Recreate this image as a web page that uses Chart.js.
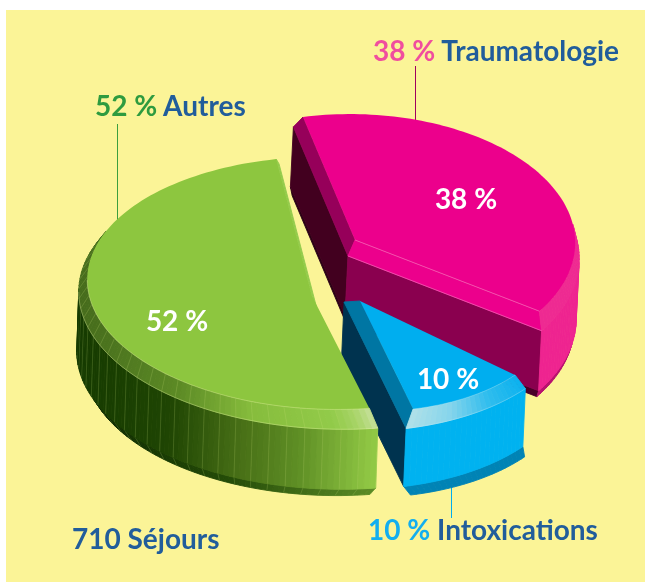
<!DOCTYPE html>
<html>
<head>
<meta charset="utf-8">
<script src="https://cdn.jsdelivr.net/npm/chart.js@4/dist/chart.umd.js"></script>
<style>
    html, body { margin: 0; padding: 0; background: #fff; }
    #page { position: relative; width: 645px; height: 582px; overflow: hidden; }
    #panel { position: absolute; left: 6px; top: 10px; right: 0; bottom: 0; background: #FBF497; }
    canvas { position: absolute; left: 0; top: 0; }
    .label { position: absolute; font: bold 28px Lato, sans-serif; color: #215D9B; white-space: pre; line-height: 30px; }
    .inner { position: absolute; font: bold 28px Lato, sans-serif; color: #fff; white-space: pre; line-height: 30px; transform: translateX(-50%); }
</style>
</head>
<body>
<div id="page">
    <div id="panel"></div>
    <canvas id="chart" width="645" height="582"></canvas>
    <div id="texts"></div>
</div>
<script>
// Chart data
var categories = ['Traumatologie', 'Intoxications', 'Autres'];
var shares = [38, 10, 52];
var totalLabel = '710 Séjours';

// Top face of every slice: apex, rim vectors at 0 and 90 degrees from the slice start, perspective
var sliceViews = [
    { apex: [355, 240], p: [-52, -123], q: [214, -27], k: [0, 0] },
    { apex: [360, 301], p: [155, 74], q: [-123, 82], k: [0, 0] },
    { apex: [312, 296], p: [62, 121.5], q: [-232, 28], k: [0.082, 0.0985] }
];

// Solid layers from top face to underside
var sliceLayers = [
    [{ scale: 1, dx: 0, dy: 0 }, { scale: 1.05, dx: -7, dy: 16 }, { scale: 1.05, dx: -10, dy: 76 }, { scale: 1.035, dx: -9, dy: 83 }],
    [{ scale: 1, dx: 0, dy: 0 }, { scale: 1.17, dx: -16, dy: 1 }, { scale: 1.17, dx: -18.5, dy: 59 }, { scale: 1.12, dx: -9, dy: 73 }],
    [{ scale: 1, dx: 0, dy: 0 }, { scale: 1.06, dx: 5, dy: 13 }, { scale: 1.06, dx: 3, dy: 73 }, { scale: 1.01, dx: 0, dy: 85 }]
];

var topColors = ['#EC008C', '#00AEEF', '#8DC63F'];

// Band colours, rim given as [screen x, colour] stops
var bandStyles = [
    [
        { start: '#96005A', end: '#EC008C', rim: [[0, '#EE2A92']] },
        { start: '#42001F', end: '#8A004F', rim: [[0, '#EE2490']] },
        { start: '#2A0015', end: '#4A0028', rim: [[0, '#B8126E']] }
    ],
    [
        { start: '#0076A3', end: '#0076A3', rim: [[408, '#B5E2E8'], [450, '#86D5EC'], [485, '#30BDEE'], [525, '#00AEEF']] },
        { start: '#00334F', end: '#00334F', rim: [[0, '#00B2F0']] },
        { start: '#00334F', end: '#00334F', rim: [[0, '#0083B5']] }
    ],
    [
        { start: '#8DC63F', end: '#93CB4C', rim: [[85, '#456B1C'], [180, '#5C8A25'], [250, '#86BC3C'], [330, '#92CB4A'], [352, '#A8D468'], [372, '#CBE2A2']] },
        { start: '#153A00', end: '#153A00', rim: [[80, '#153A00'], [170, '#1F4503'], [240, '#476F16'], [300, '#5F8F25'], [372, '#90C844']] },
        { start: '#0D2900', end: '#0D2900', rim: [[90, '#0D2900'], [230, '#254C08'], [370, '#5A8A25']] }
    ]
];

var hairlines = ['rgba(255,190,225,0.55)', 'rgba(200,240,250,0.45)', 'rgba(235,245,170,0.5)'];

// Leaders from the outside labels: colour, x, y from, y to
var leaders = [
    ['#A0005F', 415, 66, 125],
    ['#00AEEF', 451, 480, 518],
    ['#3C9E3E', 117, 124, 222]
];

var DEG = Math.PI / 180;

var rimPoint = function(view, layer, t) {
    var c = Math.cos(t), s = Math.sin(t);
    var w = 1 + view.k[0] * c + view.k[1] * s;
    return [
        view.apex[0] + layer.dx + layer.scale * (view.p[0] * c + view.q[0] * s) / w,
        view.apex[1] + layer.dy + layer.scale * (view.p[1] * c + view.q[1] * s) / w
    ];
};

var apexPoint = function(view, layer) {
    return [view.apex[0] + layer.dx, view.apex[1] + layer.dy];
};

var signedArea = function(pts) {
    var a = 0;
    for (var i = 0; i < pts.length; i++) {
        var n = pts[(i + 1) % pts.length];
        a += pts[i][0] * n[1] - n[0] * pts[i][1];
    }
    return a / 2;
};

var tracePath = function(ctx, pts, close) {
    ctx.beginPath();
    ctx.moveTo(pts[0][0], pts[0][1]);
    for (var i = 1; i < pts.length; i++) ctx.lineTo(pts[i][0], pts[i][1]);
    if (close) ctx.closePath();
};

// Visible sides only, the outward ones wind against the slice
var drawQuad = function(ctx, quad, color) {
    if (signedArea(quad) >= 0) return false;
    tracePath(ctx, quad, true);
    ctx.fillStyle = color;
    ctx.strokeStyle = color;
    ctx.lineWidth = 0.9;
    ctx.fill();
    ctx.stroke();
    return true;
};

var hexToRgb = function(hex) {
    return [parseInt(hex.substr(1, 2), 16), parseInt(hex.substr(3, 2), 16), parseInt(hex.substr(5, 2), 16)];
};

var rimColor = function(stops, x) {
    if (stops.length == 1 || x <= stops[0][0]) return stops[0][1];
    for (var i = 1; i < stops.length; i++) {
        if (x <= stops[i][0]) {
            var f = (x - stops[i - 1][0]) / (stops[i][0] - stops[i - 1][0]);
            var a = hexToRgb(stops[i - 1][1]), b = hexToRgb(stops[i][1]);
            return 'rgb(' + Math.round(a[0] + (b[0] - a[0]) * f) + ',' + Math.round(a[1] + (b[1] - a[1]) * f) + ',' + Math.round(a[2] + (b[2] - a[2]) * f) + ')';
        }
    }
    return stops[stops.length - 1][1];
};

var drawSlice = function(ctx, arc, index) {
    var view = sliceViews[index];
    var layers = sliceLayers[index];
    var sweep = arc.endAngle - arc.startAngle;
    var steps = Math.ceil(sweep / (1.5 * DEG));

    for (var b = layers.length - 2; b >= 0; b--) {
        var upper = layers[b], lower = layers[b + 1], style = bandStyles[index][b];
        var apexU = apexPoint(view, upper), apexL = apexPoint(view, lower);

        drawQuad(ctx, [apexU, rimPoint(view, upper, 0), rimPoint(view, lower, 0), apexL], style.start);
        drawQuad(ctx, [rimPoint(view, upper, sweep), apexU, apexL, rimPoint(view, lower, sweep)], style.end);

        for (var i = 0; i < steps; i++) {
            var t0 = sweep * i / steps, t1 = sweep * (i + 1) / steps;
            var u0 = rimPoint(view, upper, t0), u1 = rimPoint(view, upper, t1);
            var l0 = rimPoint(view, lower, t0), l1 = rimPoint(view, lower, t1);
            if (drawQuad(ctx, [u0, u1, l1, l0], rimColor(style.rim, (u0[0] + u1[0]) / 2)) && index == 2 && i % 3 == 0) {
                // Fine vertical grain on the green side
                tracePath(ctx, [u0, l0]);
                ctx.strokeStyle = 'rgba(200,225,120,0.28)';
                ctx.lineWidth = 0.7;
                ctx.stroke();
            }
        }
    }

    // Top face
    var outline = [apexPoint(view, layers[0])];
    for (var j = 0; j <= steps; j++) outline.push(rimPoint(view, layers[0], sweep * j / steps));
    tracePath(ctx, outline, true);
    ctx.fillStyle = arc.options.backgroundColor;
    ctx.fill();

    // Pale line along the visible edges
    ctx.strokeStyle = hairlines[index];
    ctx.lineWidth = 0.7;
    for (var n = 0; n < 2; n++) {
        var ring = [];
        for (var m = 0; m <= steps; m++) ring.push(rimPoint(view, layers[n], sweep * m / steps));
        if (index == 0) {
            ring = [apexPoint(view, layers[n])].concat(ring.slice().reverse().slice(0, 1));
        }
        tracePath(ctx, index == 2 ? ring.slice(0, Math.round(steps * 0.6)) : ring);
        ctx.stroke();
    }
};

// Pie whose slices are drawn as solids from the arc angles of the library
class SolidPieController extends Chart.PieController {
    draw() {
        var ctx = this._ctx;
        this._cachedMeta.data.forEach(function(arc, index) {
            drawSlice(ctx, arc, index);
        });
    }
}
SolidPieController.id = 'solidPie';
SolidPieController.defaults = Chart.PieController.defaults;
SolidPieController.overrides = Chart.PieController.overrides;
Chart.register(SolidPieController);

var leaderPlugin = {
    id: 'leaders',
    beforeDatasetsDraw: function(chart) {
        var ctx = chart.ctx;
        leaders.forEach(function(l) {
            ctx.beginPath();
            ctx.moveTo(l[1] + 0.5, l[2]);
            ctx.lineTo(l[1] + 0.5, l[3]);
            ctx.strokeStyle = l[0];
            ctx.lineWidth = 1;
            ctx.stroke();
        });
    }
};

new Chart(document.getElementById('chart').getContext('2d'), {
    type: 'solidPie',
    data: {
        labels: categories,
        datasets: [{ data: shares, backgroundColor: topColors, borderWidth: 0 }]
    },
    options: {
        responsive: false,
        animation: false,
        rotation: -23,
        plugins: { legend: { display: false }, tooltip: { enabled: false } }
    },
    plugins: [leaderPlugin]
});

// Real text over the canvas
var addText = function(cls, x, y, parts) {
    var el = document.createElement('div');
    el.className = cls;
    el.style.left = x + 'px';
    el.style.top = y + 'px';
    parts.forEach(function(part) {
        var span = document.createElement('span');
        span.textContent = part[0];
        if (part[1]) span.style.color = part[1];
        el.appendChild(span);
    });
    document.getElementById('texts').appendChild(el);
};

var percent = function(i) { return shares[i] + ' %'; };

addText('label', 373, 35, [[percent(0) + ' ', '#F04E9E'], [categories[0]]]);
addText('label', 368, 514, [[percent(1) + ' ', '#13AEEF'], [categories[1]]]);
addText('label', 95, 90, [[percent(2) + ' ', '#2E9B3F'], [categories[2]]]);
addText('label', 72, 523, [[totalLabel]]);
addText('inner', 466, 183, [[percent(0)]]);
addText('inner', 448, 363, [[percent(1)]]);
addText('inner', 177, 305, [[percent(2)]]);
</script>
</body>
</html>
